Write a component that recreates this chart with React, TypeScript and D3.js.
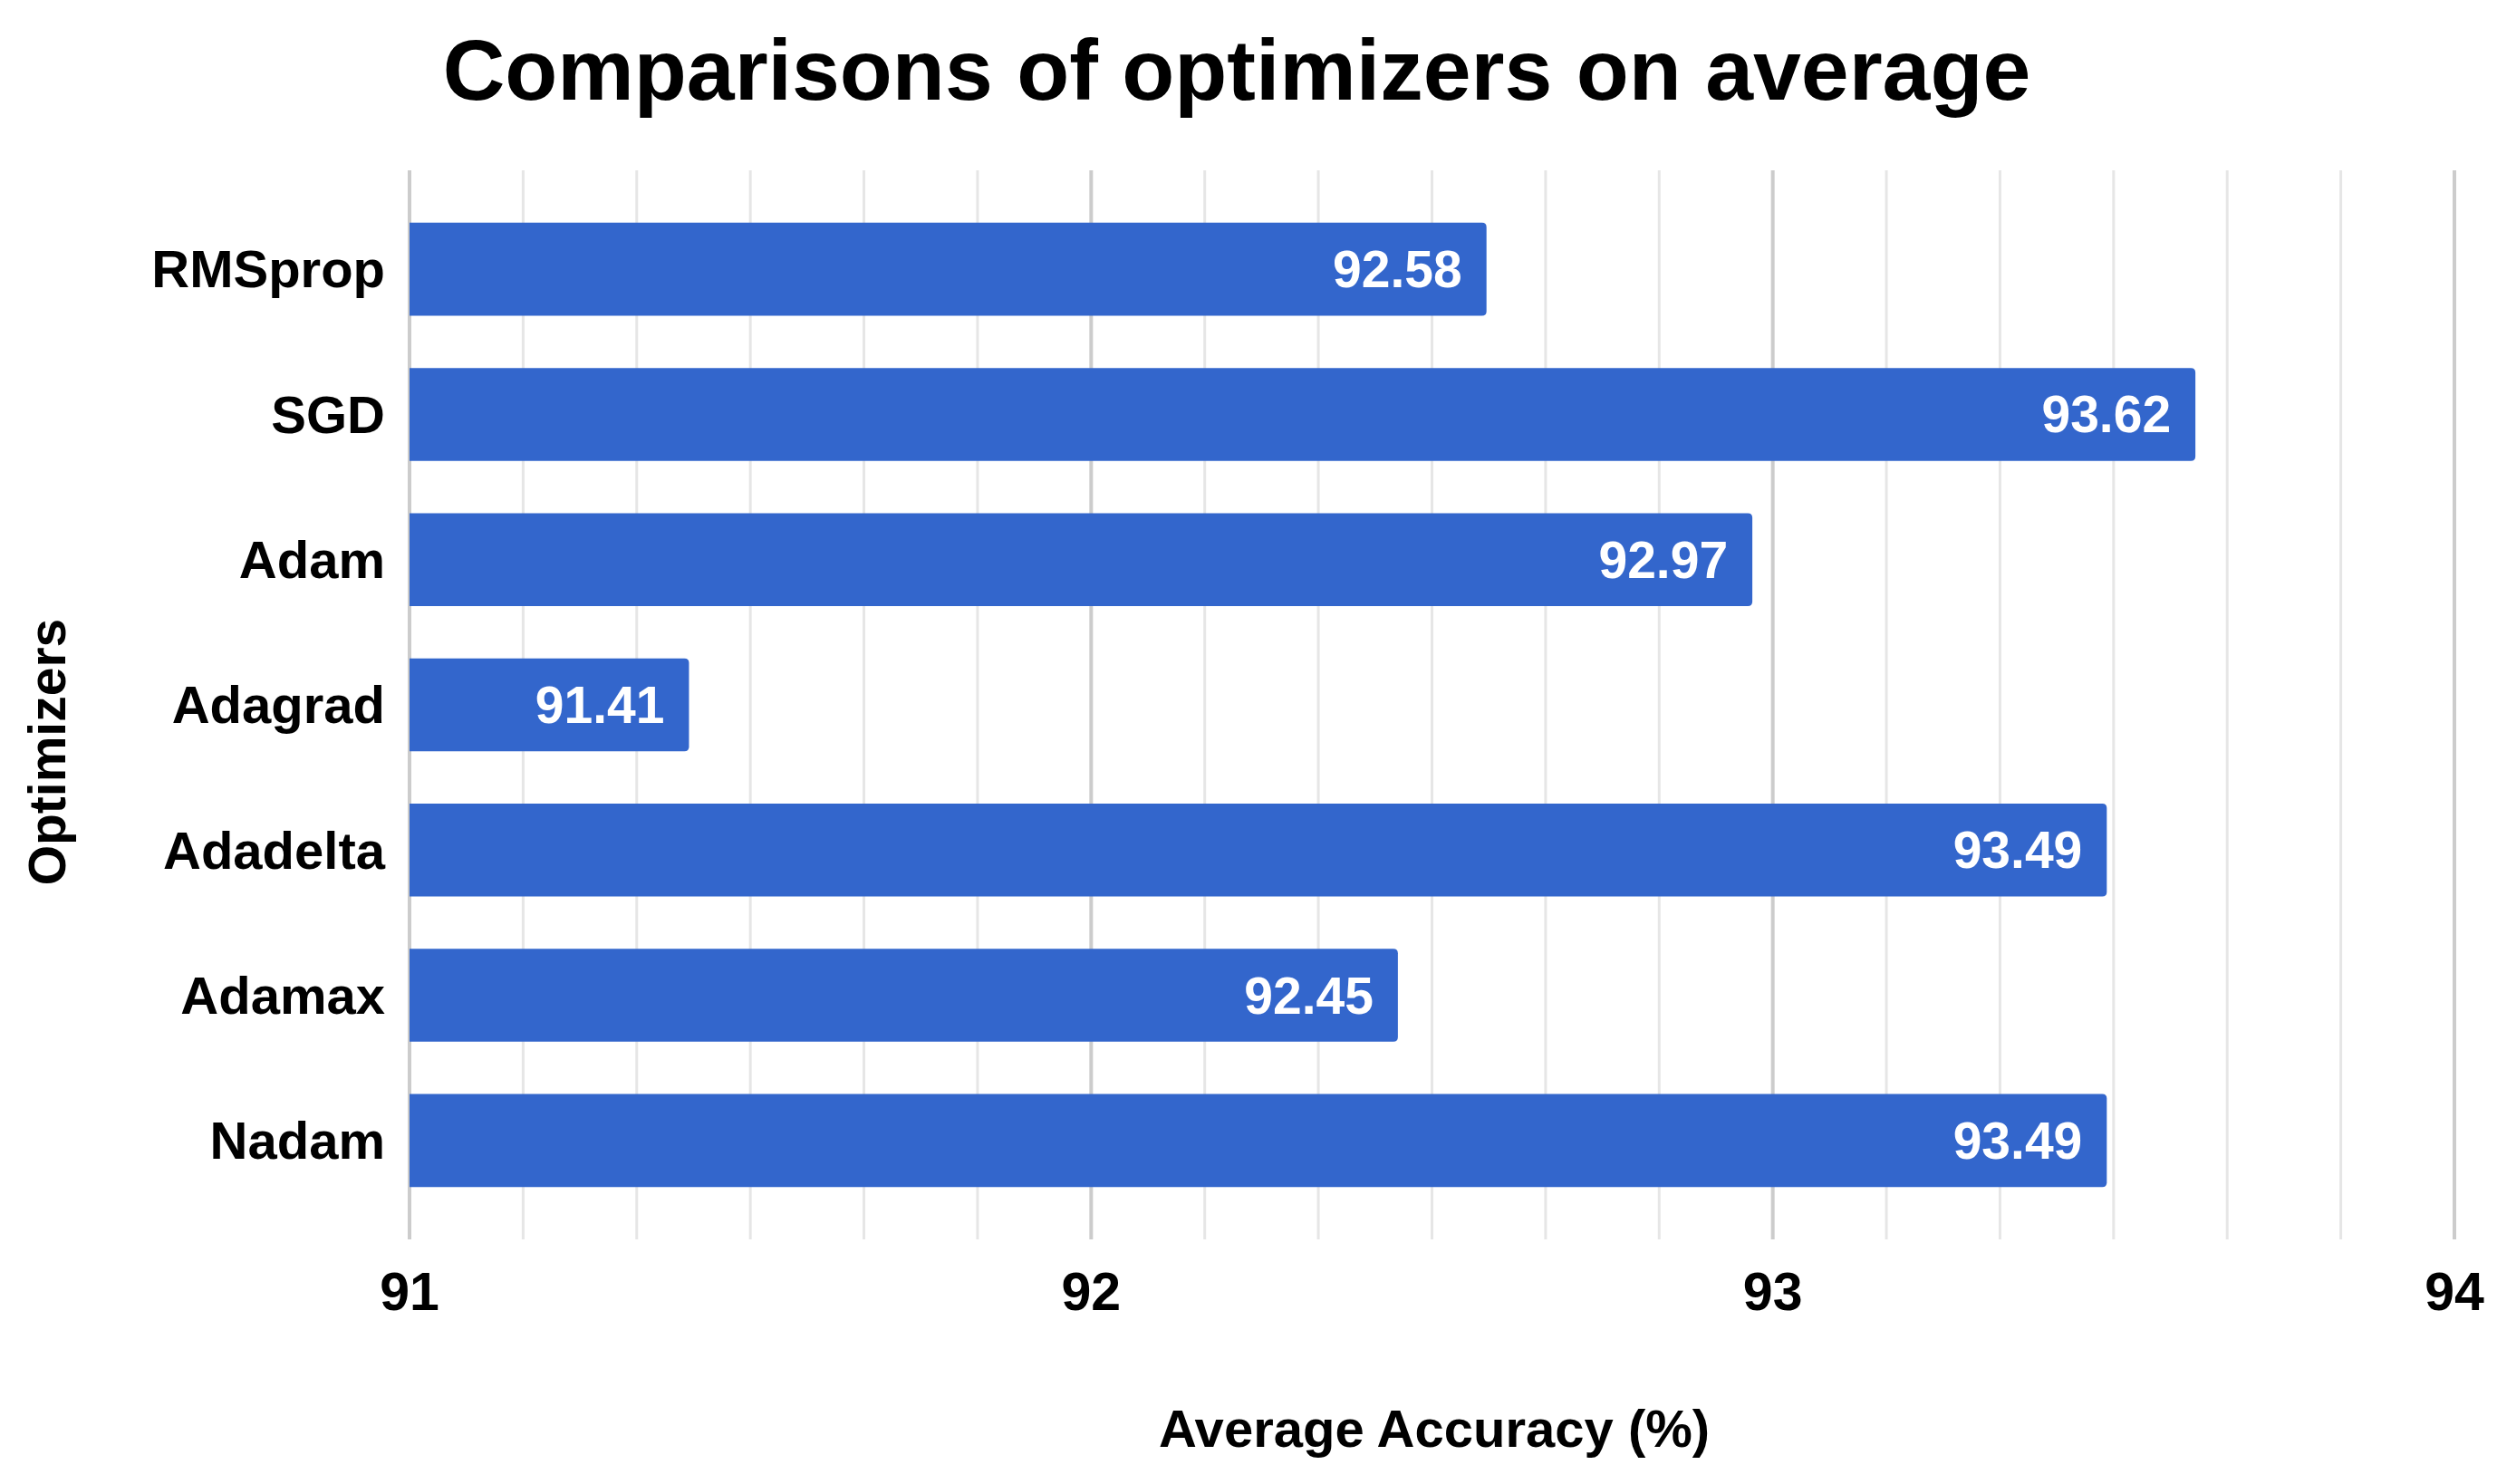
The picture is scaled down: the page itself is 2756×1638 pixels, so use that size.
import * as d3 from "d3";
import React from "react";

const optimizers = ["RMSprop", "SGD", "Adam", "Adagrad", "Adadelta", "Adamax", "Nadam"];
const accuracy = [92.58, 93.62, 92.97, 91.41, 93.49, 92.45, 93.49];
const majorTicks = [91, 92, 93, 94];

const width = 2756;
const height = 1638;
const font = "'Liberation Sans', Arial, sans-serif";
const barColor = "#3366cc";

// bar with square left end and slightly rounded right end
const barPath = (x0: number, x1: number, y: number, h: number, r: number) =>
  `M${x0},${y}H${x1 - r}Q${x1},${y} ${x1},${y + r}V${y + h - r}Q${x1},${y + h} ${x1 - r},${y + h}H${x0}Z`;

const App = () => {
  const x = d3.scaleLinear().domain([91, 94]).range([452, 2709]);
  const y = d3.scaleBand().domain(optimizers).range([217, 1339]).paddingInner(0.36).paddingOuter(0.18);

  const gridTop = 188;
  const gridBottom = 1368;

  // 5 minor lines between each pair of major ticks
  const minorTicks = d3.range(91, 94, 1 / 6).filter((v) => Math.abs(v - Math.round(v)) > 1e-6);

  return (
    <svg width={width} height={height} style={{ position: "absolute", left: 0, top: 0, background: "#fff" }}>
      <text x={1365} y={110} textAnchor="middle" fontFamily={font} fontWeight="bold" fontSize={95} fill="#000">
        Comparisons of optimizers on average
      </text>

      {minorTicks.map((v) => (
        <line key={"m" + v} x1={x(v)} x2={x(v)} y1={gridTop} y2={gridBottom} stroke="#e6e6e6" strokeWidth={3} />
      ))}
      {majorTicks.map((v) => (
        <line key={"M" + v} x1={x(v)} x2={x(v)} y1={gridTop} y2={gridBottom} stroke="#cccccc" strokeWidth={4} />
      ))}

      {optimizers.map((name, i) => {
        const by = y(name)!;
        const bh = y.bandwidth();
        const x1 = x(accuracy[i]);
        return (
          <g key={name}>
            <path d={barPath(x(91), x1, by, bh, 5)} fill={barColor} />
            <text
              x={x1 - 27}
              y={by + bh / 2}
              dy="0.35em"
              textAnchor="end"
              fontFamily={font}
              fontWeight="bold"
              fontSize={57}
              fill="#fff"
            >
              {accuracy[i].toFixed(2)}
            </text>
            <text
              x={425}
              y={by + bh / 2}
              dy="0.35em"
              textAnchor="end"
              fontFamily={font}
              fontWeight="bold"
              fontSize={58}
              fill="#000"
            >
              {name}
            </text>
          </g>
        );
      })}

      {majorTicks.map((v) => (
        <text key={"t" + v} x={x(v)} y={1446} textAnchor="middle" fontFamily={font} fontWeight="bold" fontSize={59} fill="#000">
          {v}
        </text>
      ))}

      <text x={1583} y={1597} textAnchor="middle" fontFamily={font} fontWeight="bold" fontSize={58} fill="#000">
        Average Accuracy (%)
      </text>
      <text
        transform={`translate(72, 830) rotate(-90)`}
        textAnchor="middle"
        fontFamily={font}
        fontWeight="bold"
        fontSize={57}
        fill="#000"
      >
        Optimizers
      </text>
    </svg>
  );
};

export default App;
